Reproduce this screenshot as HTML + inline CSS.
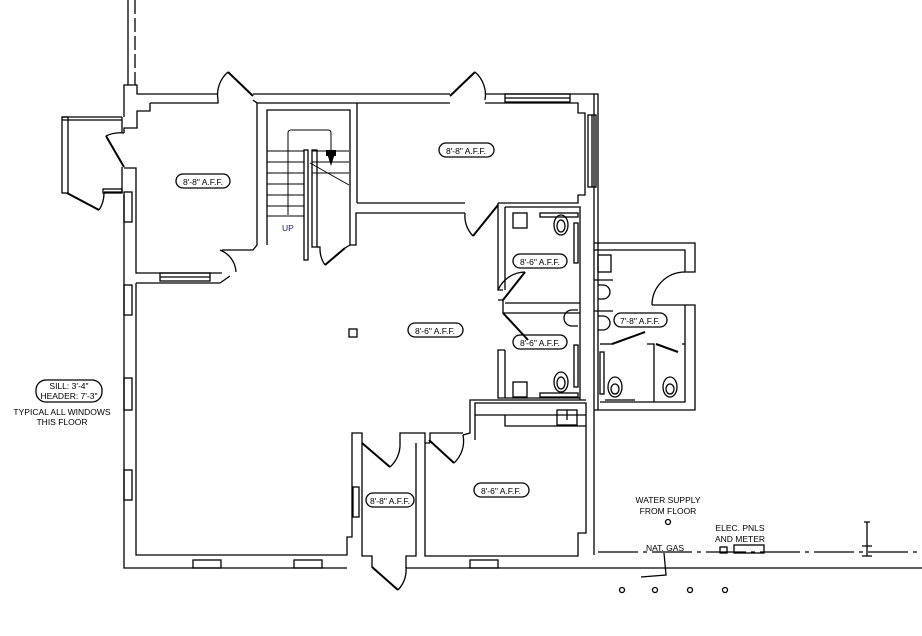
<!DOCTYPE html>
<html><head><meta charset="utf-8"><style>
html,body{margin:0;padding:0;background:#fff;width:922px;height:636px;overflow:hidden}
svg{display:block}
text{font-family:"Liberation Sans",sans-serif;font-size:8.5px;fill:#000}
</style></head><body>
<svg width="922" height="636" viewBox="0 0 922 636" xmlns="http://www.w3.org/2000/svg">
<g fill="none" stroke="#000" stroke-width="1.3">
<line x1="128" y1="0" x2="128" y2="85"/>
<line x1="135" y1="0" x2="135" y2="85" stroke-dasharray="14,4"/>
<polyline points="124,117 124,85 137,85 137,94 218,94"/>
<polyline points="253,94 450,94"/>
<polyline points="485,94 598,94 598,410"/>
<polyline points="150,103 218,103 218,100"/>
<polyline points="253,100 257,103 257,245 253,250 246,250"/>
<polyline points="150,103 150,111 137,111 137,128 124,128 124,133"/>
<polyline points="257,103 450,103"/>
<polyline points="485,103 578,103 578,113 585,113 585,195 578,195 578,203 498,203"/>
<rect x="505" y="94" width="65" height="8"/><line x1="505" y1="98" x2="570" y2="98"/>
<rect x="588" y="115" width="8" height="72"/><line x1="592" y1="115" x2="592" y2="187"/>
<rect x="160" y="273" width="50" height="8"/><line x1="160" y1="277" x2="210" y2="277"/>
<line x1="228" y1="72" x2="253" y2="96" stroke-width="2"/><path d="M228,72 A30,30 0 0 0 218,100"/>
<line x1="450" y1="96" x2="475" y2="72" stroke-width="2"/><path d="M475,72 A30,30 0 0 1 485,100"/>
<!-- bay window left -->
<rect x="62" y="117" width="6" height="76"/>
<line x1="62" y1="117" x2="122" y2="117"/><line x1="62" y1="120" x2="122" y2="120"/>
<line x1="122" y1="117" x2="122" y2="133"/>
<line x1="106" y1="136" x2="124" y2="167" stroke-width="2"/>
<path d="M106,136 A32,32 0 0 1 124,133"/>
<polyline points="122,167 122,192 104,192"/>
<rect x="103" y="189" width="19" height="4"/>
<line x1="67" y1="193" x2="99" y2="210" stroke-width="2"/>
<path d="M99,210 A30,30 0 0 0 104,193"/>
<polyline points="124,168 136,168 136,170"/>
<polyline points="136,170 136,273 222,273"/>
<polyline points="124,195 124,568 347,568"/>
<polyline points="406,568 598,568"/>
<polyline points="136,283 136,555 347,555 347,537 352,537 352,433 362,433 362,443"/>
<polyline points="136,283 220,283 230,276"/>
<path d="M220,250 A25,25 0 0 1 236,272"/>
<line x1="222" y1="250" x2="246" y2="250"/>
<rect x="124" y="192" width="8" height="30"/>
<rect x="124" y="285" width="8" height="30"/>
<rect x="124" y="378" width="8" height="32"/>
<rect x="124" y="470" width="8" height="30"/>
<rect x="193" y="560" width="28" height="8"/>
<rect x="294" y="560" width="28" height="8"/>
<rect x="470" y="560" width="28" height="8"/>
<!-- stair -->
<polyline points="267,245 267,110 350,110 350,245 356,245 356,213 465,213"/>
<polyline points="357,203 357,103"/>
<line x1="357" y1="203" x2="465" y2="203"/>
<g stroke-width="1">
<line x1="267" y1="151" x2="304" y2="151"/><line x1="267" y1="162" x2="304" y2="162"/>
<line x1="267" y1="173" x2="304" y2="173"/><line x1="267" y1="184" x2="304" y2="184"/>
<line x1="267" y1="195" x2="304" y2="195"/><line x1="267" y1="206" x2="304" y2="206"/>
<line x1="267" y1="216" x2="304" y2="216"/>
<line x1="312" y1="151" x2="349" y2="151"/><line x1="312" y1="162" x2="349" y2="162"/>
<line x1="312" y1="173" x2="349" y2="173"/>
<line x1="310" y1="163" x2="349" y2="185"/>
<path d="M288,215 L288,133 Q288,130 291,130 L328,130 Q331,130 331,133 L331,150"/>
</g>
<rect x="304" y="150" width="4" height="110"/>
<rect x="312" y="150" width="5" height="97"/>
<polyline points="317,247 320,247 320,250"/>
<path d="M320,250 A28,28 0 0 0 325,265"/>
<line x1="325" y1="265" x2="345" y2="248" stroke-width="2"/>
<line x1="345" y1="248" x2="350" y2="245"/>
<line x1="498" y1="205" x2="473" y2="236" stroke-width="2"/><path d="M465,213 A30,30 0 0 0 473,236"/>
<!-- restrooms -->
<polyline points="498,203 498,290 503,290"/>
<polyline points="505,207 505,290"/>
<polyline points="505,207 580,207 580,400"/>
<line x1="594" y1="94" x2="594" y2="555"/>
<polyline points="498,300 503,300 503,313 580,313"/>
<polyline points="505,303 580,303"/>
<line x1="503" y1="300" x2="525" y2="272" stroke-width="2"/>
<path d="M498,290 A30,30 0 0 1 525,272"/>
<line x1="503" y1="313" x2="528" y2="340" stroke-width="2"/>
<polyline points="505,350 498,350 498,398 580,398"/>
<polyline points="505,350 505,398"/>
<rect x="513" y="213" width="14" height="15"/>
<ellipse cx="561" cy="225" rx="7" ry="10"/><ellipse cx="561" cy="226" rx="4" ry="6"/>
<rect x="540" y="213" width="38" height="4"/>
<rect x="574" y="223" width="4" height="40"/>
<rect x="513" y="382" width="14" height="15"/>
<ellipse cx="561" cy="382" rx="7" ry="10"/><ellipse cx="561" cy="383" rx="4" ry="6"/>
<rect x="540" y="393" width="38" height="4"/>
<rect x="574" y="345" width="4" height="42"/>
<path d="M578,310 L572,310 A6,6 0 0 0 572,326 L578,326"/>
<!-- annex -->
<polyline points="594,243 695,243 695,272 685,272 685,250 594,250"/>
<polyline points="685,305 695,305 695,410 594,410"/>
<polyline points="685,305 685,402 600,402"/>
<path d="M652,305 A33,33 0 0 1 685,272"/>
<line x1="652" y1="305" x2="685" y2="305"/>
<rect x="598" y="255" width="13" height="17"/>
<line x1="594" y1="280" x2="613" y2="280"/>
<path d="M598,285 L603,285 A6,6 0 0 1 603,299 L598,299"/>
<line x1="594" y1="311" x2="613" y2="311"/>
<path d="M598,316 L603,316 A6,6 0 0 1 603,330 L598,330"/>
<line x1="612" y1="344" x2="645" y2="332" stroke-width="2"/>
<line x1="600" y1="344" x2="612" y2="344"/>
<polyline points="647,344 654,344 654,402"/>
<line x1="656" y1="344" x2="678" y2="352" stroke-width="2"/>
<line x1="682" y1="344" x2="685" y2="344"/>
<ellipse cx="615" cy="387" rx="7" ry="10"/><ellipse cx="615" cy="389" rx="4" ry="5"/>
<ellipse cx="670" cy="387" rx="7" ry="10"/><ellipse cx="670" cy="389" rx="4" ry="5"/>
<rect x="600" y="352" width="4" height="42"/>
<line x1="605" y1="400" x2="635" y2="400"/>
<!-- kitchen / bottom right room -->
<polyline points="463,435 470,433 470,400 586,400"/>
<polyline points="430,443 430,433 463,433"/>
<polyline points="475,440 475,403 586,403 586,533 578,533 578,556 425,556 425,443 430,443"/>
<polyline points="505,415 505,426 586,426"/>
<line x1="475" y1="415" x2="586" y2="415"/>
<rect x="557" y="410" width="20" height="15"/>
<line x1="567" y1="410" x2="567" y2="420"/>
<line x1="429" y1="440" x2="454" y2="463" stroke-width="2"/>
<path d="M454,463 A30,30 0 0 0 463,435"/>
<!-- closet -->
<polyline points="362,443 362,556 372,556 372,568"/>
<polyline points="400,443 400,433 425,433 425,443"/>
<polyline points="416,443 416,556 406,556 406,568"/>
<line x1="362" y1="443" x2="390" y2="467" stroke-width="2"/>
<path d="M390,467 A30,30 0 0 0 400,443"/>
<rect x="353" y="487" width="6" height="30"/>
<line x1="372" y1="567" x2="398" y2="590" stroke-width="2"/>
<path d="M398,590 A30,30 0 0 0 406,567"/>
<!-- site -->
<line x1="598" y1="552" x2="922" y2="552" stroke-dasharray="40,5,4,5"/>
<line x1="598" y1="568" x2="922" y2="568"/>
<rect x="734" y="545" width="30" height="8"/>
<rect x="720" y="547" width="7" height="6"/>
<path d="M864,522 L870,522 M867,522 L867,556 M862,546 L872,546 M862,556 L872,556"/>
<polyline points="664,553 666,575 641,577"/>
<circle cx="668" cy="522" r="2.5"/>
<circle cx="622" cy="590" r="2.5"/><circle cx="655" cy="590" r="2.5"/>
<circle cx="690" cy="590" r="2.5"/><circle cx="725" cy="590" r="2.5"/>
<rect x="349" y="329" width="8" height="8"/>
<rect x="176" y="174" width="54" height="14" rx="7"/>
<rect x="439" y="143" width="55" height="14" rx="7"/>
<rect x="513" y="254" width="54" height="14" rx="7"/>
<rect x="513" y="335" width="54" height="14" rx="7"/>
<rect x="408" y="323" width="55" height="14" rx="7"/>
<rect x="614" y="313" width="53" height="14" rx="7"/>
<rect x="474" y="483" width="55" height="14" rx="7"/>
<rect x="366" y="493" width="48" height="14" rx="7"/>
<rect x="36" y="380" width="66" height="22" rx="10"/>
</g>
<rect x="326" y="150" width="10" height="6" fill="#000"/>
<polygon points="326,150 336,150 331,166" fill="#000"/>
<text x="282" y="231" style="fill:#1a1a66">UP</text>
<text x="203" y="185" text-anchor="middle">8'-8" A.F.F.</text>
<text x="466" y="154" text-anchor="middle">8'-8" A.F.F.</text>
<text x="540" y="265" text-anchor="middle">8'-6" A.F.F.</text>
<text x="540" y="346" text-anchor="middle">8'-6" A.F.F.</text>
<text x="435" y="334" text-anchor="middle">8'-6" A.F.F.</text>
<text x="640" y="324" text-anchor="middle">7'-8" A.F.F.</text>
<text x="501" y="494" text-anchor="middle">8'-6" A.F.F.</text>
<text x="390" y="504" text-anchor="middle">8'-8" A.F.F.</text>
<text x="69" y="389" text-anchor="middle">SILL: 3'-4"</text>
<text x="69" y="399" text-anchor="middle">HEADER: 7'-3"</text>
<text x="62" y="415" text-anchor="middle">TYPICAL ALL WINDOWS</text>
<text x="62" y="425" text-anchor="middle">THIS FLOOR</text>
<text x="668" y="503" text-anchor="middle">WATER SUPPLY</text>
<text x="668" y="514" text-anchor="middle">FROM FLOOR</text>
<text x="740" y="531" text-anchor="middle">ELEC. PNLS</text>
<text x="740" y="542" text-anchor="middle">AND METER</text>
<text x="665" y="551" text-anchor="middle">NAT. GAS</text>
</svg>
</body></html>
